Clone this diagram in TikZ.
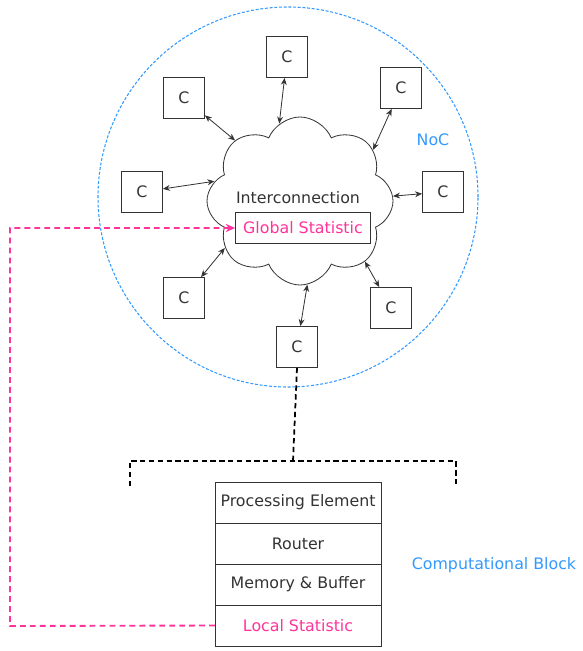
\documentclass[tikz,border=0pt]{standalone}
\usepackage{fontspec}
\setmainfont{DejaVu Sans}
\usetikzlibrary{arrows.meta,positioning,shapes.symbols}

\definecolor{nocblue}{HTML}{3399FF}
\definecolor{statpink}{HTML}{FF3399}
\definecolor{inkgray}{HTML}{333333}

\begin{document}
\begin{tikzpicture}[
    x=0.03cm, y=-0.03cm,
    font=\fontsize{13.5}{16}\selectfont,
    core/.style={rectangle, draw=inkgray, line width=0.7pt, minimum size=1.23cm, inner sep=0pt, text=inkgray},
    layerbox/.style={rectangle, draw=inkgray, line width=0.7pt, minimum width=4.98cm, minimum height=1.23cm, inner sep=0pt, outer sep=0pt, text=inkgray},
    link/.style={{Stealth[length=6pt,width=5pt]}-{Stealth[length=6pt,width=5pt]}, line width=0.7pt, inkgray},
    statlink/.style={-{Stealth[length=8pt,width=7pt]}, draw=statpink, line width=1.6pt, dash pattern=on 5pt off 3.5pt},
    expand/.style={black, line width=1.5pt, dash pattern=on 4.5pt off 3pt},
    label/.style={text=nocblue}
]

\useasboundingbox (0,0) rectangle (582,651);

% NoC boundary
\draw[nocblue, line width=0.9pt, dash pattern=on 2.5pt off 1.5pt] (288,197) circle[radius=5.7cm];
\node[label] (noc) at (433,140) {NoC};

% Interconnection cloud
\node[cloud, draw=inkgray, line width=0.7pt, cloud puffs=8, cloud puff arc=135, aspect=1.1,
      minimum width=5.58cm, minimum height=5.04cm, inner sep=0pt] (cloud) at (300,201) {};
\node[text=inkgray] (inter) at (298,198) {Interconnection};
\node[draw=inkgray, line width=0.7pt, minimum width=4.05cm, minimum height=0.93cm, inner sep=0pt, text=statpink] (gs) at (303,228) {Global Statistic};

% Cores
\node[core] (c1) at (287,57) {C};
\node[core] (c2) at (184,98) {C};
\node[core] (c3) at (401,88) {C};
\node[core] (c4) at (142,192) {C};
\node[core] (c5) at (443,192) {C};
\node[core] (c6) at (184,298) {C};
\node[core] (c7) at (297,347) {C};
\node[core] (c8) at (391,308) {C};

% Links to the interconnection
\draw[link] (c1) -- (cloud.105);
\draw[link] (c2) -- (cloud.137);
\draw[link] (c3) -- (cloud.35);
\draw[link] (c4) -- (cloud.167);
\draw[link] (c5) -- (cloud.3);
\draw[link] (c6) -- (cloud.212);
\draw[link] (c7) -- (cloud.275);
\draw[link] (c8) -- (cloud.317);

% Computational block
\node[layerbox] (pe) at (298,502.5) {Processing Element};
\node[layerbox, below=0pt of pe] (router) {Router};
\node[layerbox, below=0pt of router] (mem) {Memory \& Buffer};
\node[layerbox, below=0pt of mem, text=statpink] (ls) {Local Statistic};
\node[label] (cblock) at (494,565) {Computational Block};

% Zoom bracket
\coordinate (brtop) at (293,461);
\draw[expand] (c7.south) -- (brtop);
\draw[expand] (130,486) -- (130,461) -- (456,461) -- (456,486);

% Statistic path
\coordinate (turn) at (10,228);
\coordinate (corner) at (10,626);
\draw[statlink] (ls.west) -- (corner) -- (turn) -- (gs.west);

\end{tikzpicture}
\end{document}
